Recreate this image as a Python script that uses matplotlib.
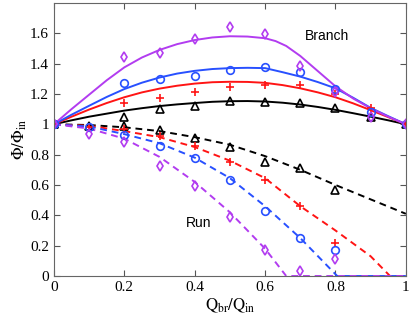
import numpy as np
import matplotlib
matplotlib.use('Agg')
import matplotlib.pyplot as plt

PURPLE = '#b23cf0'
BLUE = '#2850ff'
RED = '#ff1414'
BLACK = '#000000'

# measured points (branch / run), one set per colour
x_branch = [0, 0.2, 0.3, 0.4, 0.5, 0.6, 0.7, 0.8, 0.9, 1.0]
br_black = [1.0, 1.05, 1.10, 1.12, 1.153, 1.15, 1.14, 1.11, 1.05, 1.0]
br_red = [1.0, 1.14, 1.175, 1.215, 1.245, 1.26, 1.257, 1.20, 1.105, 1.0]
br_blue = [1.0, 1.27, 1.30, 1.32, 1.36, 1.375, 1.347, 1.23, 1.08, 1.0]
br_purple = [1.0, 1.445, 1.47, 1.56, 1.64, 1.595, 1.385, 1.21, 1.045, 1.0]

x_run = [0, 0.1, 0.2, 0.3, 0.4, 0.5, 0.6, 0.7, 0.8]
run_black = [1.0, 0.99, 0.99, 0.96, 0.91, 0.85, 0.75, 0.71, 0.57]
run_red = [1.0, 0.98, 0.97, 0.92, 0.86, 0.75, 0.63, 0.46, 0.22]
run_blue = [1.0, 0.98, 0.93, 0.86, 0.78, 0.63, 0.43, 0.25, 0.17]
run_purple = [1.0, 0.935, 0.88, 0.725, 0.59, 0.39, 0.17, 0.03, 0.11]

# model curves (branch, solid)
x_line = [0, 0.05, 0.1, 0.15, 0.2, 0.25, 0.3, 0.35, 0.4, 0.45, 0.5,
          0.55, 0.6, 0.65, 0.7, 0.75, 0.8, 0.85, 0.9, 0.95, 1.0]
ln_black = [1.0, 1.026, 1.05, 1.07, 1.09, 1.106, 1.12, 1.131, 1.14, 1.148, 1.152,
            1.153, 1.15, 1.142, 1.13, 1.114, 1.095, 1.073, 1.05, 1.026, 1.0]
ln_red = [1.0, 1.05, 1.097, 1.14, 1.178, 1.21, 1.235, 1.254, 1.268, 1.277, 1.28,
          1.279, 1.273, 1.258, 1.237, 1.21, 1.178, 1.138, 1.093, 1.047, 1.0]
ln_blue = [1.0, 1.063, 1.122, 1.18, 1.232, 1.274, 1.308, 1.334, 1.352, 1.364, 1.37,
           1.372, 1.37, 1.343, 1.314, 1.278, 1.237, 1.175, 1.108, 1.053, 1.0]
x_line_p = [0, 0.05, 0.1, 0.15, 0.2, 0.25, 0.3, 0.35, 0.4, 0.45, 0.5,
            0.55, 0.6, 0.63, 0.66, 0.7, 0.75, 0.8, 0.85, 0.9, 0.95, 1.0]
ln_purple = [1.0, 1.1, 1.195, 1.29, 1.375, 1.44, 1.49, 1.528, 1.555, 1.572, 1.58,
             1.578, 1.567, 1.548, 1.516, 1.45, 1.35, 1.25, 1.17, 1.105, 1.05, 1.0]

# model curves (run, dashed)
xr = [0, 0.1, 0.2, 0.3, 0.4, 0.5, 0.6, 0.7, 0.8, 0.9, 1.0]
lr_black = [1.0, 0.995, 0.98, 0.955, 0.915, 0.865, 0.79, 0.70, 0.60, 0.505, 0.41]
xr_red = [0, 0.1, 0.2, 0.3, 0.4, 0.5, 0.6, 0.7, 0.8, 0.9, 0.955, 1.0]
lr_red = [1.0, 0.99, 0.955, 0.915, 0.85, 0.76, 0.645, 0.46, 0.30, 0.13, 0.0, 0.0]
xr_blue = [0, 0.1, 0.2, 0.3, 0.4, 0.5, 0.6, 0.7, 0.805, 1.0]
lr_blue = [1.0, 0.985, 0.935, 0.875, 0.78, 0.645, 0.46, 0.25, 0.0, 0.0]
xr_purple = [0, 0.1, 0.2, 0.3, 0.4, 0.5, 0.6, 0.66, 1.0]
lr_purple = [1.0, 0.972, 0.905, 0.785, 0.62, 0.42, 0.18, 0.0, 0.0]

plt.rcParams['font.family'] = ['Liberation Serif', 'DejaVu Serif']
plt.rcParams['mathtext.fontset'] = 'stix'

fig = plt.figure(figsize=(4.15, 3.18), dpi=100)
ax = fig.add_axes([0.130, 0.132, 0.848, 0.859])

lw = 1.4
dash = (0, (3.5, 2.5))
ax.plot(x_line, ln_black, color=BLACK, lw=lw)
ax.plot(x_line, ln_red, color=RED, lw=lw)
ax.plot(x_line, ln_blue, color=BLUE, lw=lw)
ax.plot(x_line_p, ln_purple, color=PURPLE, lw=lw)
ax.plot(xr, lr_black, color=BLACK, lw=lw, linestyle=dash)
ax.plot(xr_red, lr_red, color=RED, lw=lw, linestyle=dash)
ax.plot(xr_blue, lr_blue, color=BLUE, lw=lw, linestyle=dash)
ax.plot(xr_purple, lr_purple, color=PURPLE, lw=lw, linestyle=dash)

mk = dict(linestyle='none', markersize=5.5, markeredgewidth=1.2, markerfacecolor='none')
for xs, ys in [(x_branch, br_black), (x_run, run_black)]:
    ax.plot(xs, ys, marker='^', color=BLACK, **mk)
for xs, ys in [(x_branch, br_red), (x_run, run_red)]:
    ax.plot(xs, ys, marker='+', color=RED, **mk)
for xs, ys in [(x_branch, br_blue), (x_run, run_blue)]:
    ax.plot(xs, ys, marker='o', color=BLUE, **mk)
for xs, ys in [(x_branch, br_purple), (x_run, run_purple)]:
    ax.plot(xs, ys, marker='d', color=PURPLE, **mk)

ax.text(0.775, 1.58, 'Branch', family='Liberation Sans', fontsize=10,
        ha='center', va='center')
ax.text(0.41, 0.35, 'Run', family='Liberation Sans', fontsize=10,
        ha='center', va='center')

ax.set_xlim(0, 1)
ax.set_ylim(0, 1.8)
ax.set_xticks([0, 0.2, 0.4, 0.6, 0.8, 1.0])
ax.set_yticks([0, 0.2, 0.4, 0.6, 0.8, 1.0, 1.2, 1.4, 1.6])
ax.xaxis.set_major_formatter(matplotlib.ticker.FormatStrFormatter('%g'))
ax.yaxis.set_major_formatter(matplotlib.ticker.FormatStrFormatter('%g'))
ax.tick_params(direction='in', top=True, right=True, length=4, width=0.8,
               labelsize=11, colors='#555555', labelcolor='black')
for s in ax.spines.values():
    s.set_color('#666666')
    s.set_linewidth(0.8)

ax.set_xlabel(r'$\mathrm{Q_{br}/Q_{in}}$', fontsize=12, labelpad=2)
ax.set_ylabel(r'$\mathrm{\Phi/\Phi_{in}}$', fontsize=12, labelpad=1)

fig.savefig('out.png', dpi=100)
plt.close()
